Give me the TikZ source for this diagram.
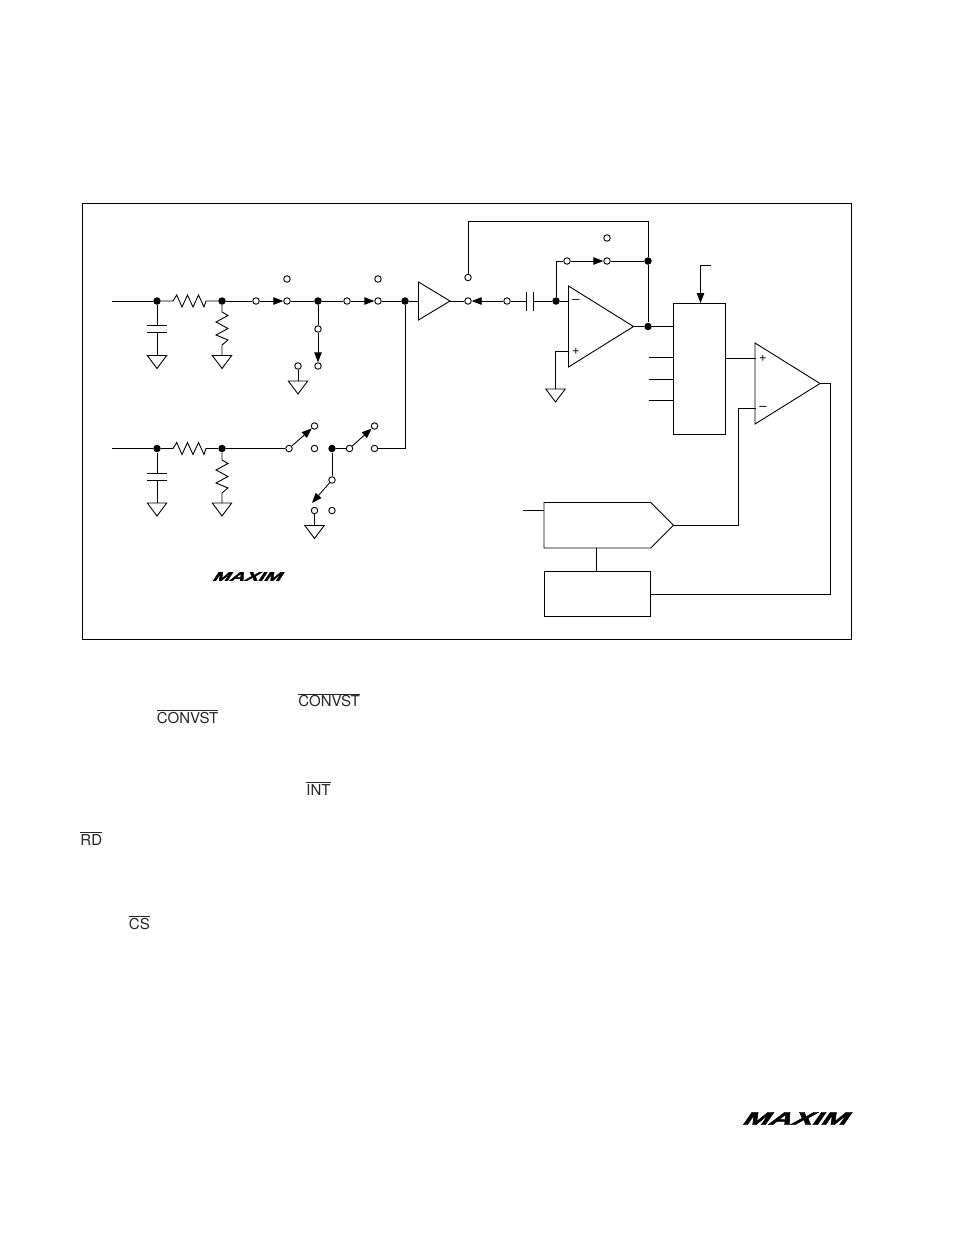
\documentclass[tikz,border=0pt]{standalone}
\usepackage{fontspec}
\setmainfont{TeX Gyre Heros}
\newfontfamily\logofont{Liberation Sans}[UprightFont=* Bold, FakeBold=2, FakeSlant=0.4]
\usetikzlibrary{arrows.meta,shapes.geometric,shapes.symbols}
\newcommand{\reshor}{-- ++(3.7,-6) -- ++(5.3,12) -- ++(5.5,-12) -- ++(5.5,12) -- ++(5.5,-12) -- ++(5.5,12) -- ++(2,-6)}
\newcommand{\resver}{-- ++(6,3.5) -- ++(-12,6.5) -- ++(12,6.5) -- ++(-12,6.5) -- ++(12,5) -- ++(-6,5)}
\newcommand{\barred}[1]{$\overline{\hbox{#1}}$}
\tikzset{
  jn/.style={circle, fill=black, inner sep=0pt, minimum size=7.5pt},
  ct/.style={circle, draw, fill=white, inner sep=0pt, minimum size=6.5pt},
  gd/.style={isosceles triangle, isosceles triangle stretches, shape border rotate=270, draw, inner sep=0pt, outer sep=0pt, minimum width=19.4pt, minimum height=13pt, anchor=apex},
  amp/.style={isosceles triangle, isosceles triangle stretches, draw, inner sep=0pt, outer sep=0pt, anchor=apex},
  blk/.style={rectangle, draw, inner sep=0pt, outer sep=0pt},
  sw/.style={-{Triangle[length=10pt,width=7.5pt]}},
  sign/.style={font=\fontsize{13}{13}\selectfont, inner sep=0pt},
  txt/.style={font=\fontsize{15}{17}\selectfont, text=black!85, inner sep=0pt, anchor=base west},
  logo/.style={inner sep=0pt}
}
\begin{document}
\begin{tikzpicture}[x=1pt, y=-1pt, line width=0.9pt]
\useasboundingbox (0,0) rectangle (954,1235);
\node[blk, minimum width=769pt, minimum height=436.5pt] (frame) at (467,421.25){};
\coordinate (in0) at (112,301);
\node[jn] (jn0) at (157,301){};
\node[jn] (jn1) at (222,301){};
\node[ct] (ct0) at (256,301){};
\node[ct] (ct1) at (287,301){};
\node[ct] (ct2) at (287,279){};
\node[jn] (jn2) at (318,301){};
\node[ct] (ct3) at (347,301){};
\node[ct] (ct4) at (378,301){};
\node[ct] (ct5) at (378,279){};
\node[jn] (jn3) at (405,301){};
\node[ct] (ct6) at (318,329){};
\node[ct] (ct7) at (318,366){};
\node[ct] (ct8) at (298,366){};
\node[gd] (gd0) at (157,368.5){};
\node[gd] (gd1) at (222,368.5){};
\node[gd] (gd2) at (298,394){};
\coordinate (cp0) at (157,325);
\coordinate (cp1) at (157,332);
\draw (in0) -- (jn0);
\draw (jn0) -- ++(16,0) \reshor -- (jn1);
\draw (jn1) -- (ct0);
\draw[sw] (ct0) -- (ct1);
\draw (ct1) -- (jn2);
\draw (jn2) -- (ct3);
\draw[sw] (ct3) -- (ct4);
\draw (ct4) -- (jn3);
\draw (jn2) -- (ct6);
\draw[sw] (ct6) -- (ct7);
\draw (ct8) -- (gd2.north);
\draw (jn0) -- (cp0);
\draw ([xshift=-10pt]cp0) -- ([xshift=10pt]cp0);
\draw ([xshift=-10pt]cp1) -- ([xshift=10pt]cp1);
\draw (cp1) -- (gd0.north);
\draw (jn1) -- ++(0,11) \resver -- (gd1.north);
\coordinate (in1) at (112,448.5);
\node[jn] (jn4) at (157,448.5){};
\node[jn] (jn5) at (222,448.5){};
\node[ct] (ct9) at (289,448.5){};
\node[ct] (ct10) at (314.5,426){};
\node[ct] (ct11) at (314.5,448.5){};
\node[jn] (jn6) at (332,448.5){};
\node[ct] (ct12) at (349.5,448.5){};
\node[ct] (ct13) at (374.5,426){};
\node[ct] (ct14) at (374.5,448.5){};
\node[ct] (ct15) at (332,480){};
\node[ct] (ct16) at (314.5,510.5){};
\node[ct] (ct17) at (332,510.5){};
\coordinate (arm0) at (312,503);
\node[gd] (gd3) at (157,516){};
\node[gd] (gd4) at (222,516){};
\node[gd] (gd5) at (314.5,538.5){};
\coordinate (cp2) at (157,473.5);
\coordinate (cp3) at (157,480.5);
\coordinate (cn0) at (405,448.5);
\draw (in1) -- (jn4);
\draw (jn4) -- ++(16,0) \reshor -- (jn5);
\draw (jn5) -- (ct9);
\draw[sw] (ct9) -- (ct10);
\draw (jn6) -- (ct12);
\draw[sw] (ct12) -- (ct13);
\draw (ct14) -- (cn0) -- (jn3);
\draw (jn6) -- (ct15);
\draw[sw] (ct15) -- (arm0);
\draw (ct16) -- (gd5.north);
\draw (jn4) -- (cp2);
\draw ([xshift=-10pt]cp2) -- ([xshift=10pt]cp2);
\draw ([xshift=-10pt]cp3) -- ([xshift=10pt]cp3);
\draw (cp3) -- (gd3.north);
\draw (jn5) -- ++(0,11.5) \resver -- (gd4.north);
\node[amp, minimum width=38pt, minimum height=31.5pt] (buf0) at (450,301){};
\draw (jn3) -- (buf0.west);
\node[ct] (ct18) at (468,301){};
\node[ct] (ct19) at (468,277.5){};
\node[ct] (ct20) at (507,301){};
\coordinate (cp4) at (526,301);
\coordinate (cp5) at (533.5,301);
\node[jn] (jn7) at (556,301){};
\node[ct] (ct21) at (567,261){};
\node[ct] (ct22) at (607,261){};
\node[ct] (ct23) at (607,238){};
\node[jn] (jn8) at (648,261){};
\node[jn] (jn9) at (648,326.5){};
\coordinate (lp0) at (648,221.5);
\coordinate (lp1) at (556,261);
\draw (buf0.apex) -- (ct18);
\draw[sw] (ct20) -- (ct18);
\draw (ct20) -- (cp4);
\draw ([yshift=-9.5pt]cp4) -- ([yshift=9.5pt]cp4);
\draw ([yshift=-9.5pt]cp5) -- ([yshift=9.5pt]cp5);
\draw (cp5) -- (jn7);
\draw (ct19) |- (lp0) -- (jn8);
\draw (jn7) -- (lp1) -- (ct21);
\draw[sw] (ct21) -- (ct22);
\draw (ct22) -- (jn8);
\draw (jn8) -- (jn9);
\node[amp, minimum width=81pt, minimum height=65pt] (amp0) at (633.5,326.5){};
\coordinate (pm0) at (568.5,351);
\coordinate (pm1) at (555.5,351);
\node[gd] (gd6) at (555.5,402){};
\draw (jn7) -- (amp0.west |- jn7);
\draw (amp0.apex) -- (jn9);
\draw (pm0) -- (pm1) -- (gd6.north);
\node[sign] (mn0) at (576,301){--};
\node[sign] (pl0) at (576,351){+};
\node[blk, minimum width=52pt, minimum height=131.5pt] (mux0) at (699.5,368.75){};
\coordinate (ck0) at (711,265.5);
\coordinate (ck1) at (700.5,265.5);
\coordinate (pn0) at (648.5,357.5);
\coordinate (pn1) at (648.5,379.5);
\coordinate (pn2) at (648.5,400.5);
\draw (jn9) -- (mux0.west |- jn9);
\draw[sw] (ck0) -- (ck1) -- (ck1 |- mux0.north);
\draw (pn0) -- (pn0 -| mux0.west);
\draw (pn1) -- (pn1 -| mux0.west);
\draw (pn2) -- (pn2 -| mux0.west);
\node[amp, minimum width=81pt, minimum height=65pt] (amp1) at (820,383.5){};
\coordinate (pp0) at (755.5,358);
\coordinate (pp1) at (755.5,408.5);
\coordinate (pp2) at (738.5,408.5);
\coordinate (ot0) at (830.5,383.5);
\draw (pp0 -| mux0.east) -- (pp0);
\node[sign] (pl1) at (763,358){+};
\node[sign] (mn1) at (763,408.5){--};
\node[signal, signal to=east, signal pointer angle=90, draw, inner sep=0pt, outer sep=0pt, minimum width=129.5pt, minimum height=45.5pt, anchor=west] (dac0) at (544,525.25){};
\node[blk, minimum width=106pt, minimum height=45pt] (sar0) at (597.5,594){};
\coordinate (rf0) at (523,510);
\coordinate (dc0) at (596.5,548);
\draw (rf0) -- (rf0 -| dac0.west);
\draw (dc0) -- (dc0 |- sar0.north);
\draw (dac0.east) -| (pp2) -- (pp1);
\draw (amp1.apex) -- (ot0) |- (sar0.east);
\node[logo, xscale=1.63, font=\logofont\fontsize{12.6}{13}\selectfont] (logo0) at (246,576.5){MAXIM};
\node[logo, xscale=1.74, font=\logofont\fontsize{18}{19}\selectfont] (logo1) at (793.5,1118.5){MAXIM};
\node[txt] (tx0) at (298,706.5){\barred{CONVST}};
\node[txt] (tx1) at (156.5,723){\barred{CONVST}};
\node[txt] (tx2) at (306,795){\barred{INT}};
\node[txt] (tx3) at (80,845){\barred{RD}};
\node[txt] (tx4) at (128.5,929){\barred{CS}};
\end{tikzpicture}
\end{document}
